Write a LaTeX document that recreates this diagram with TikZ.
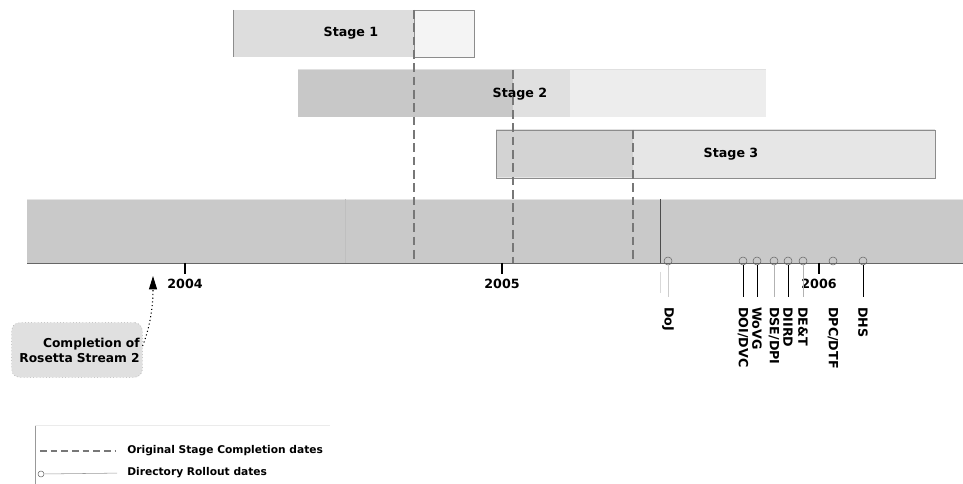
\documentclass[tikz,border=0pt]{standalone}
\usepackage{fontspec}
\setmainfont{DejaVu Sans}
\usetikzlibrary{arrows.meta}

\definecolor{bandgray}{HTML}{C9C9C9}
\definecolor{stoneleft}{HTML}{DDDDDD}
\definecolor{stoneright}{HTML}{F4F4F4}
\definecolor{sttwoleft}{HTML}{C8C8C8}
\definecolor{sttwomid}{HTML}{E0E0E0}
\definecolor{sttworight}{HTML}{EDEDED}
\definecolor{stthreeleft}{HTML}{D3D3D3}
\definecolor{stthreeright}{HTML}{E6E6E6}
\definecolor{edgegray}{HTML}{8C8C8C}
\definecolor{cutline}{HTML}{777777}

\tikzset{
  rollout/.style={circle,draw=black!60,inner sep=0pt,minimum size=6pt},
  dirlabel/.style={rotate=-90,anchor=west,inner sep=0pt},
  legendtext/.style={anchor=west,inner sep=0pt,font=\bfseries\fontsize{8}{9}\selectfont},
  notebox/.style={draw=black!45,dotted,fill=black!12,rounded corners=6pt,
    text width=94pt,align=right,inner sep=2pt,minimum height=41pt,
    font=\bfseries\fontsize{9.2}{11.2}\selectfont},
  cutdash/.style={cutline,line width=1.5pt,dash pattern=on 6.5pt off 3.5pt}
}

\begin{document}
\begin{tikzpicture}[x=0.75pt,y=-0.75pt,font=\bfseries\fontsize{9.5}{11}\selectfont]
\useasboundingbox (0,0) rectangle (963,484);
% stages
\fill[stoneleft] (233,10) rectangle (414,57);
\draw[edgegray,fill=stoneright] (414,10) rectangle (474,57);
\draw[edgegray] (233,10) -- (233,57);
\draw[black!12] (298,69) -- (766,69);
\fill[sttwoleft] (298,70) rectangle (513,117);
\fill[sttwomid] (513,70) rectangle (570,117);
\fill[sttworight] (570,70) rectangle (766,117);
\draw[black!12] (496,129) -- (935,129);
\draw[edgegray,fill=stthreeright] (496,130) rectangle (935,178);
\fill[stthreeleft] (496.7,130.7) rectangle (633,177.3);
% timeline band
\fill[bandgray] (27,199) rectangle (963,263);
\draw[black!10] (27,199) -- (963,199);
\draw[black!25] (345,199) -- (345,263);
\draw[black!70] (660,199) -- (660,263);
\draw[black!15] (660,272) -- (660,293);
\draw[black!60,line width=1.2pt] (27,263.5) -- (963,263.5);
% original completion dates
\foreach \x/\top in {414/10,513/70,633/130}
\draw[cutdash] (\x,\top) -- (\x,263);
\node (stage1) at (351,33) {Stage 1};
\node (stage2) at (520,94) {Stage 2};
\node (stage3) at (731,154) {Stage 3};
% years
\foreach \x/\yr in {185/2004,502/2005,819/2006}{
\draw[line width=1pt] (\x,263) -- (\x,274);
\node (y\yr) at (\x,284) {\yr};
}
% rollout dates
\foreach \x/\txt/\col [count=\i] in {668/DoJ/black!20,743/{DOI/DVC}/black,757/WoVG/black,774/{DSE/DPI}/black!30,788/DIIRD/black,803/{DE\&T}/black!30,833/{DPC/DTF}/none,863/DHS/black}{
\node[rollout] (dot\i) at (\x,261) {};
\node[dirlabel] (dir\i) at (\x,307) {\txt};
\draw[draw=\col,shorten >=7.5pt] (dot\i) -- (dir\i.west);
}
% rosetta
\node[notebox] (rosetta) at (77,350) {Completion of\\Rosetta Stream 2};
\coordinate (rosettadone) at (153,276);
\draw[dotted,thick,-{Triangle[length=10pt,width=6pt]}] ([yshift=3pt]rosetta.east) .. controls (152,322) and (153,300) .. (rosettadone);
% legend
\draw[black!40] (35,425) -- (35,484);
\draw[black!8] (35,425) -- (330,425);
\node[legendtext] (lgdash) at (127,451) {Original Stage Completion dates};
\node[legendtext] (lgdot) at (127,473) {Directory Rollout dates};
\coordinate (lgdashstart) at (40,451);
\draw[cutline,line width=1.5pt,dash pattern=on 5pt off 3pt,shorten >=9pt] (lgdashstart) -- (lgdash.west);
\node[rollout,minimum size=4.5pt] (lgcircle) at (41,474) {};
\draw[black!40,shorten >=7.5pt] (lgcircle) -- (lgdot.west);
\end{tikzpicture}
\end{document}
